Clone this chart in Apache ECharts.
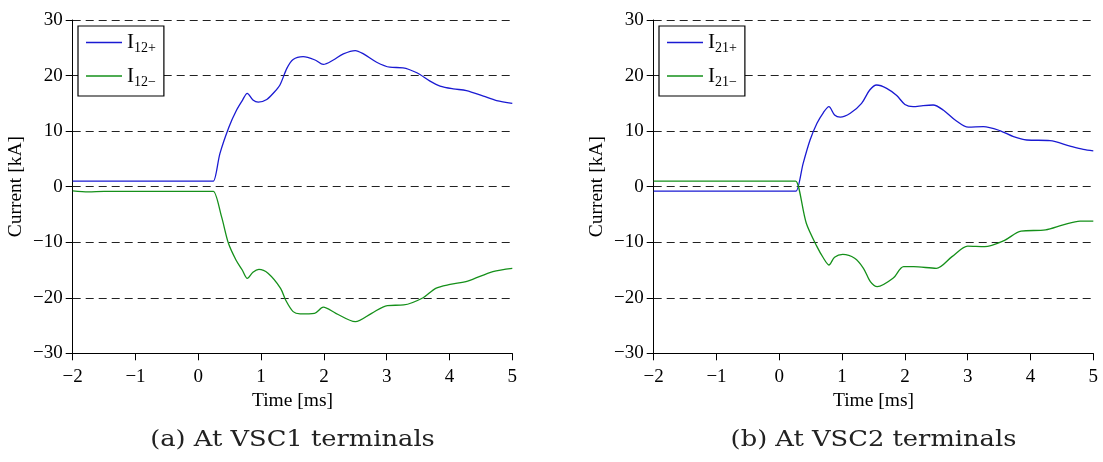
<!DOCTYPE html>
<html>
<head>
<meta charset="utf-8">
<script src="https://cdn.jsdelivr.net/npm/echarts@6/dist/echarts.min.js"></script>
<style>
html,body{margin:0;padding:0;background:#fff;}
#chart{width:1103px;height:462px;}
</style>
</head>
<body>
<div id="chart"></div>
<script>
// ---- data (time in ms, current in kA) ----
const t12p = [-2, 0.20, 0.24, 0.345, 0.49, 0.61, 0.70, 0.78, 0.87, 0.955, 1.09, 1.20, 1.30, 1.41, 1.51, 1.67, 1.86, 1.99, 2.15, 2.31, 2.50, 2.63, 2.84, 3.05, 3.26, 3.48, 3.69, 3.85, 4.06, 4.27, 4.54, 4.75, 5.0];
const i12p = [1.0, 1.0, 1.0, 6.0, 10.8, 13.8, 15.5, 16.8, 15.6, 15.2, 15.7, 16.9, 18.3, 21.3, 22.9, 23.4, 22.8, 22.0, 22.8, 23.9, 24.5, 23.9, 22.4, 21.5, 21.4, 20.5, 19.0, 18.1, 17.6, 17.3, 16.3, 15.5, 15.0];

const t12m = [-2, -1.75, -1.5, 0.20, 0.24, 0.37, 0.48, 0.60, 0.70, 0.78, 0.87, 0.965, 1.11, 1.31, 1.39, 1.51, 1.62, 1.85, 1.99, 2.19, 2.50, 2.76, 3.01, 3.27, 3.58, 3.78, 4.01, 4.29, 4.69, 5.0];
const i12m = [-0.75, -0.95, -0.85, -0.85, -0.85, -5.4, -10.2, -13.2, -15.0, -16.5, -15.4, -14.9, -15.6, -18.3, -20.4, -22.5, -22.9, -22.8, -21.7, -22.8, -24.3, -22.8, -21.4, -21.3, -20.0, -18.3, -17.6, -17.0, -15.3, -14.7];

const t21p = [-2, 0.22, 0.266, 0.38, 0.49, 0.60, 0.70, 0.79, 0.88, 0.97, 1.13, 1.31, 1.44, 1.55, 1.71, 1.87, 2.00, 2.13, 2.29, 2.45, 2.61, 2.80, 3.01, 3.25, 3.51, 3.73, 3.94, 4.31, 4.63, 4.84, 5.0];
const i21p = [-0.8, -0.8, -0.8, 4.2, 8.4, 11.4, 13.3, 14.4, 12.9, 12.5, 13.2, 15.0, 17.4, 18.3, 17.7, 16.4, 14.8, 14.4, 14.6, 14.7, 13.8, 12.0, 10.7, 10.8, 10.1, 9.0, 8.4, 8.3, 7.3, 6.7, 6.45];

const t21m = [-2, 0.22, 0.26, 0.43, 0.60, 0.70, 0.79, 0.88, 1.01, 1.20, 1.34, 1.45, 1.56, 1.81, 1.98, 2.14, 2.50, 2.75, 3.00, 3.27, 3.58, 3.85, 4.24, 4.52, 4.79, 5.0];
const i21m = [1.0, 1.0, 1.0, -6.6, -10.8, -12.8, -14.1, -12.7, -12.2, -12.9, -14.7, -17.1, -18.0, -16.5, -14.4, -14.4, -14.7, -12.6, -10.7, -10.8, -9.7, -8.0, -7.8, -6.9, -6.2, -6.2];

const xTicks = [-2, -1, 0, 1, 2, 3, 4, 5];
const yTicks = [-30, -20, -10, 0, 10, 20, 30];
const seriesNames = ['I12+', 'I12\u2212', 'I21+', 'I21\u2212'];
const captions = ['(a) At VSC1 terminals', '(b) At VSC2 terminals'];

// ---- build ----
const zip = (t, v) => t.map((x, k) => [x, v[k]]);
const BLUE = '#1a1ad2', GREEN = '#15901a';
const serif = 'Liberation Serif';
const minus = v => String(v).replace('-', '\u2212');

function xAxis(gi) {
  return {
    type: 'value', gridIndex: gi, min: xTicks[0], max: xTicks[xTicks.length - 1], interval: 1,
    name: 'Time [ms]', nameLocation: 'middle', nameGap: 34,
    nameTextStyle: { fontFamily: serif, fontSize: 19.5, color: '#000' },
    axisLine: { onZero: false, lineStyle: { color: '#000', width: 1 } },
    axisTick: { show: true, inside: false, length: 7, lineStyle: { color: '#000' } },
    axisLabel: { margin: 14, fontFamily: serif, fontSize: 19, color: '#000', formatter: minus },
    splitLine: { show: false }
  };
}
function yAxis(gi) {
  return {
    type: 'value', gridIndex: gi, min: yTicks[0], max: yTicks[yTicks.length - 1], interval: 10,
    name: 'Current [kA]', nameLocation: 'middle', nameGap: 47,
    nameTextStyle: { fontFamily: serif, fontSize: 19.5, color: '#000' },
    axisLine: { show: true, onZero: false, lineStyle: { color: '#000', width: 1 } },
    axisTick: { show: true, inside: false, length: 7, lineStyle: { color: '#000' } },
    axisLabel: { margin: 10, fontFamily: serif, fontSize: 19, color: '#000', formatter: minus },
    splitLine: { show: true, lineStyle: { color: '#222', width: 1, type: [8, 5] } }
  };
}
function legend(left, names) {
  return {
    left: left, top: 26, orient: 'vertical',
    data: names, icon: 'rect', itemWidth: 36, itemHeight: 1.6, itemGap: 10,
    padding: [6, 8, 7, 8],
    backgroundColor: '#fff', borderColor: '#000', borderWidth: 1.2, borderRadius: 0,
    selectedMode: false,
    formatter: n => '{a|I}{b|' + n.slice(1) + '}',
    textStyle: {
      color: '#000',
      rich: {
        a: { fontFamily: serif, fontSize: 21, color: '#000', lineHeight: 24 },
        b: { fontFamily: serif, fontSize: 14, color: '#000', padding: [12, 0, 0, 0] }
      }
    }
  };
}
function line(name, data, color, idx) {
  return {
    name: name, type: 'line', xAxisIndex: idx, yAxisIndex: idx, data: data,
    showSymbol: false, symbol: 'none', smooth: 0.3,
    lineStyle: { color: color, width: 1.3 }, itemStyle: { color: color },
    animation: false, z: 3
  };
}
function caption(x, text) {
  return {
    type: 'text', x: x, y: 440, scaleX: 1.17, scaleY: 1,
    style: { text: text, fontFamily: 'DejaVu Serif', fontSize: 22, fill: '#222', align: 'center', verticalAlign: 'middle' }
  };
}

const chart = echarts.init(document.getElementById('chart'), null, { renderer: 'canvas' });
chart.setOption({
  animation: false,
  backgroundColor: '#fff',
  grid: [
    { left: 72.7, top: 20, width: 439.6, height: 333.3, containLabel: false },
    { left: 653.7, top: 20, width: 439.6, height: 333.3, containLabel: false }
  ],
  xAxis: [xAxis(0), xAxis(1)],
  yAxis: [yAxis(0), yAxis(1)],
  legend: [legend(78, [seriesNames[0], seriesNames[1]]), legend(659, [seriesNames[2], seriesNames[3]])],
  series: [
    line(seriesNames[0], zip(t12p, i12p), BLUE, 0),
    line(seriesNames[1], zip(t12m, i12m), GREEN, 0),
    line(seriesNames[2], zip(t21p, i21p), BLUE, 1),
    line(seriesNames[3], zip(t21m, i21m), GREEN, 1)
  ],
  graphic: [caption(292.5, captions[0]), caption(873.5, captions[1])]
});
</script>
</body>
</html>
